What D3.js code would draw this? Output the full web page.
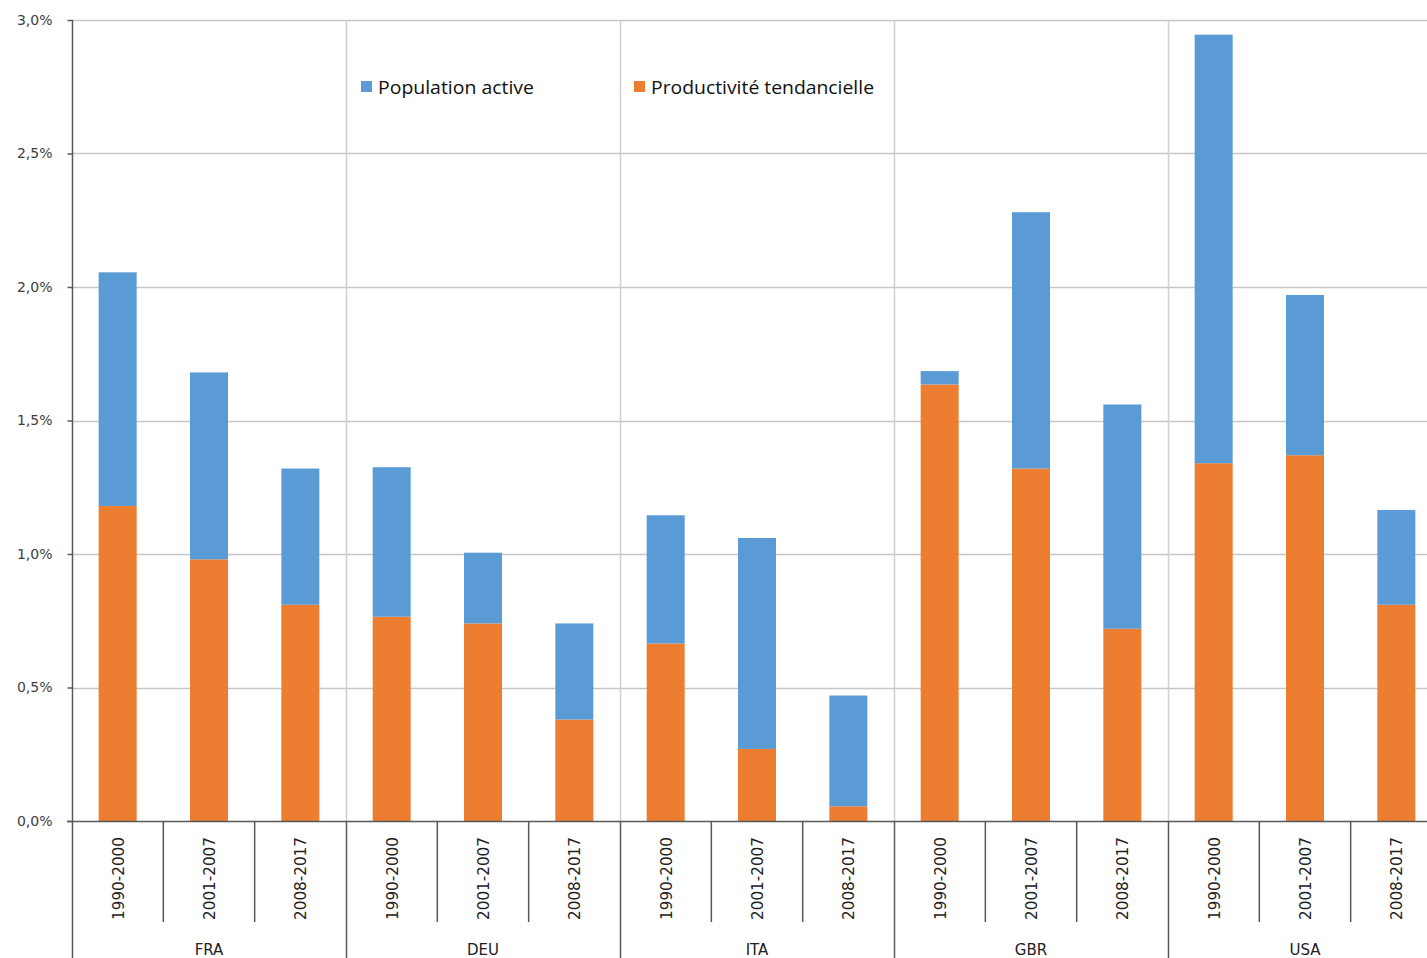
<!DOCTYPE html>
<html>
<head>
<meta charset="utf-8">
<script src="https://cdn.jsdelivr.net/npm/d3@7"></script>
<style>
  html, body { margin: 0; padding: 0; background: #fff; }
  svg { display: block; }
</style>
</head>
<body>
<svg id="chart" width="1427" height="958"></svg>
<script>
// Countries and periods
const countries = ["FRA", "DEU", "ITA", "GBR", "USA"];
const periods = ["1990-2000", "2001-2007", "2008-2017"];

// Contribution of trend productivity (%), by country then period
const productivite = [
  [1.18, 0.98, 0.81],
  [0.765, 0.74, 0.38],
  [0.665, 0.27, 0.055],
  [1.635, 1.32, 0.72],
  [1.34, 1.37, 0.81]
];
// Contribution of the labour force (%), by country then period
const populationActive = [
  [0.875, 0.70, 0.51],
  [0.56, 0.265, 0.36],
  [0.48, 0.79, 0.415],
  [0.05, 0.96, 0.84],
  [1.605, 0.60, 0.355]
];

const yTicks = [0, 0.5, 1.0, 1.5, 2.0, 2.5, 3.0];
const seriesNames = ["Population active", "Productivité tendancielle"];

const colors = { pop: "#5B9BD5", prod: "#ED7D31" };
const W = 1427, H = 958;
const plotLeft = 72, plotTop = 20, baseY = 821;
const groupW = 274;

const svg = d3.select("#chart");

const x0 = d3.scaleBand().domain(countries).range([plotLeft, plotLeft + groupW * countries.length]).padding(0);
const x1 = d3.scaleBand().domain(periods).range([0, x0.bandwidth()]).padding(0);
const y = d3.scaleLinear().domain([0, 3.0]).range([baseY, plotTop]);

const fmt = v => d3.format(".1f")(v).replace(".", ",") + "%";

// Horizontal gridlines
svg.append("g").selectAll("line").data(yTicks.filter(d => d > 0)).join("line")
  .attr("x1", plotLeft).attr("x2", W)
  .attr("y1", d => Math.round(y(d)) + 0.5).attr("y2", d => Math.round(y(d)) + 0.5)
  .attr("stroke", "#C6C6C6").attr("stroke-width", 1.5);

// Vertical gridlines between country groups
svg.append("g").selectAll("line").data(countries.slice(1)).join("line")
  .attr("x1", d => Math.round(x0(d)) + 0.5).attr("x2", d => Math.round(x0(d)) + 0.5)
  .attr("y1", plotTop).attr("y2", baseY)
  .attr("stroke", "#D0D0D0").attr("stroke-width", 1.5);

// Stacked bars
const barW = 38;
const groups = svg.append("g").selectAll("g").data(countries).join("g")
  .attr("transform", d => `translate(${x0(d)},0)`);

groups.each(function(c, ci) {
  const g = d3.select(this);
  periods.forEach((p, pi) => {
    const prod = productivite[ci][pi];
    const pop = populationActive[ci][pi];
    const bx = x1(p) + (x1.bandwidth() - barW) / 2;
    g.append("rect")
      .attr("x", bx).attr("width", barW)
      .attr("y", y(prod)).attr("height", y(0) - y(prod))
      .attr("fill", colors.prod);
    g.append("rect")
      .attr("x", bx).attr("width", barW)
      .attr("y", y(prod + pop)).attr("height", y(prod) - y(prod + pop))
      .attr("fill", colors.pop);
  });
});

// Y axis
const yAxis = d3.axisLeft(y).tickValues(yTicks).tickFormat(fmt).tickSize(5).tickPadding(15);
const ya = svg.append("g").attr("transform", `translate(${plotLeft + 0.5},0)`).call(yAxis);
ya.select(".domain").remove();
ya.selectAll(".tick line").attr("stroke", "#595959").attr("stroke-width", 1.5);
ya.selectAll(".tick text")
  .attr("fill", "#404040")
  .style("font-family", "DejaVu Sans, Verdana, sans-serif")
  .style("font-size", "14px");
svg.append("line")
  .attr("x1", plotLeft + 0.5).attr("x2", plotLeft + 0.5)
  .attr("y1", plotTop).attr("y2", H)
  .attr("stroke", "#595959").attr("stroke-width", 1.5);

// X axis baseline
svg.append("line")
  .attr("x1", plotLeft - 5).attr("x2", W)
  .attr("y1", baseY + 0.5).attr("y2", baseY + 0.5)
  .attr("stroke", "#595959").attr("stroke-width", 1.5);

// Period ticks and labels
groups.each(function(c) {
  const g = d3.select(this);
  g.selectAll("line.ptick").data(periods.slice(1)).join("line")
    .attr("class", "ptick")
    .attr("x1", d => x1(d)).attr("x2", d => x1(d))
    .attr("y1", baseY).attr("y2", 922)
    .attr("stroke", "#595959").attr("stroke-width", 1.5);
  g.selectAll("text.plabel").data(periods).join("text")
    .attr("class", "plabel")
    .attr("transform", d => `translate(${x1(d) + x1.bandwidth() / 2 + 6},837) rotate(-90)`)
    .attr("text-anchor", "end")
    .attr("fill", "#222")
    .style("font-family", "DejaVu Sans, Verdana, sans-serif")
    .style("font-size", "15px")
    .attr("textLength", 83)
    .attr("lengthAdjust", "spacingAndGlyphs")
    .text(d => d);
  g.append("text")
    .attr("x", x0.bandwidth() / 2).attr("y", 955)
    .attr("text-anchor", "middle")
    .attr("fill", "#222")
    .style("font-family", "DejaVu Sans, Verdana, sans-serif")
    .style("font-size", "15px")
    .text(c);
});

// Country separators below the axis
svg.append("g").selectAll("line").data(countries.slice(1)).join("line")
  .attr("x1", d => Math.round(x0(d)) + 0.5).attr("x2", d => Math.round(x0(d)) + 0.5)
  .attr("y1", baseY).attr("y2", H)
  .attr("stroke", "#595959").attr("stroke-width", 1.5);

// Legend
const legendX = [361, 634];
const legendColors = [colors.pop, colors.prod];
const legendLen = [156, 223];
const lg = svg.append("g");
seriesNames.forEach((name, i) => {
  lg.append("rect").attr("x", legendX[i]).attr("y", 81).attr("width", 11).attr("height", 11)
    .attr("fill", legendColors[i]);
  lg.append("text").attr("x", legendX[i] + 17).attr("y", 94)
    .attr("fill", "#111")
    .style("font-family", "Open Sans, sans-serif")
    .style("font-size", "18px")
    .attr("textLength", legendLen[i])
    .attr("lengthAdjust", "spacingAndGlyphs")
    .text(name);
});
</script>
</body>
</html>
